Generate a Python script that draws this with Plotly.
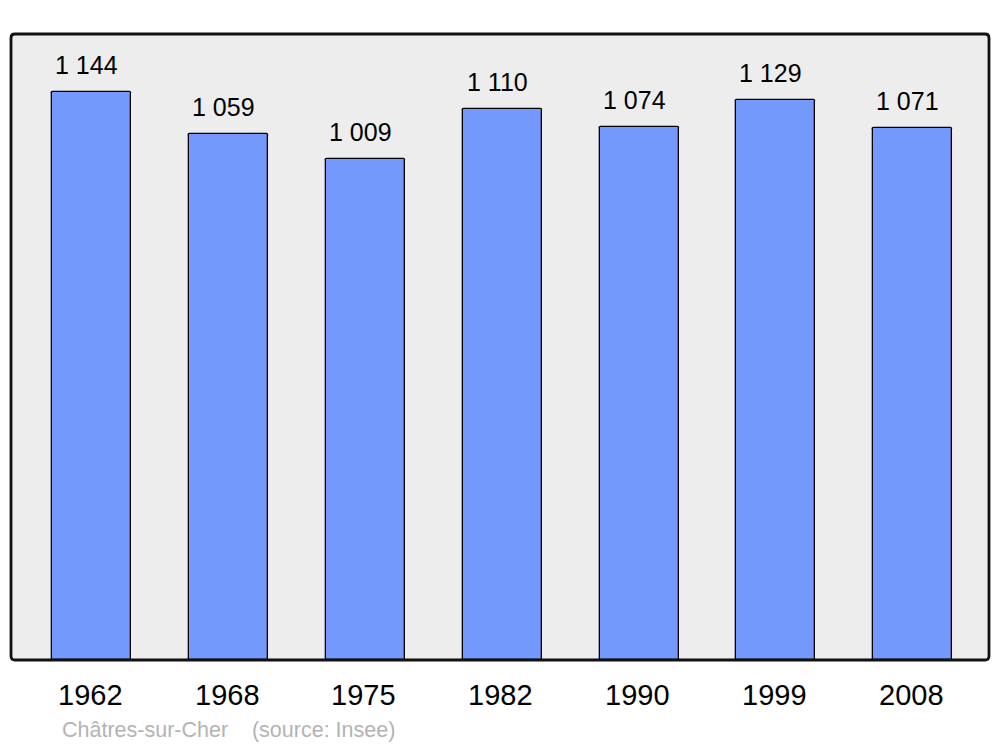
import plotly.graph_objects as go

years = ["1962", "1968", "1975", "1982", "1990", "1999", "2008"]
population = [1144, 1059, 1009, 1110, 1074, 1129, 1071]
value_labels = ["1 144", "1 059", "1 009", "1 110", "1 074", "1 129", "1 071"]
source_text = "Châtres-sur-Cher    (source: Insee)"

W, H = 1000, 747
L, R, T, B = 11, 11, 34, 87
pw, ph = W - L - R, H - T - B
FONT = "Liberation Sans, Arial, sans-serif"

fig = go.Figure()
fig.add_trace(go.Bar(
    x=list(range(len(years))), y=population,
    width=0.578,
    marker=dict(color="#7399ff", line=dict(color="#000000", width=1.3), cornerradius=2),
    hoverinfo="skip",
))

annotations = []
for i, (v, lab) in enumerate(zip(population, value_labels)):
    annotations.append(dict(x=i, y=v, xref="x", yref="y", text=lab, showarrow=False,
                            yanchor="middle", yshift=27, xshift=-5,
                            font=dict(family=FONT, size=25, color="#000")))
for i, yr in enumerate(years):
    annotations.append(dict(x=i, y=0, xref="x", yref="paper", text=yr, showarrow=False,
                            yanchor="middle", yshift=-35, xshift=-1.5,
                            font=dict(family=FONT, size=29, color="#000")))
annotations.append(dict(x=(60 - L) / pw, y=0, xref="paper", yref="paper", text=source_text,
                        showarrow=False, xanchor="left", yanchor="middle", yshift=-70,
                        font=dict(family=FONT, size=21.5, color="#b3b3b3")))

rx, ry = 4 / pw, 4 / ph
path = (f"M {rx},0 L {1-rx},0 Q 1,0 1,{ry} L 1,{1-ry} Q 1,1 {1-rx},1 "
        f"L {rx},1 Q 0,1 0,{1-ry} L 0,{ry} Q 0,0 {rx},0 Z")

shapes = [
    dict(type="path", xref="paper", yref="paper", path=path, fillcolor="#ededed",
         line=dict(width=0), layer="below"),
    dict(type="path", xref="paper", yref="paper", path=path, fillcolor="rgba(0,0,0,0)",
         line=dict(color="#111111", width=2.8), layer="above"),
]

fig.update_layout(
    width=W, height=H,
    margin=dict(l=L, r=R, t=T, b=B, pad=0),
    paper_bgcolor="white", plot_bgcolor="rgba(0,0,0,0)",
    showlegend=False,
    xaxis=dict(range=[-0.592, 6.559], showticklabels=False, showgrid=False, zeroline=False,
               fixedrange=True),
    yaxis=dict(range=[0, 1261], showticklabels=False, showgrid=False, zeroline=False,
               fixedrange=True),
    annotations=annotations,
    shapes=shapes,
    bargap=0,
)

fig.write_html("out.html", config=dict(displayModeBar=False),
               post_script="document.body.style.margin='0';document.body.style.overflow='hidden';")
